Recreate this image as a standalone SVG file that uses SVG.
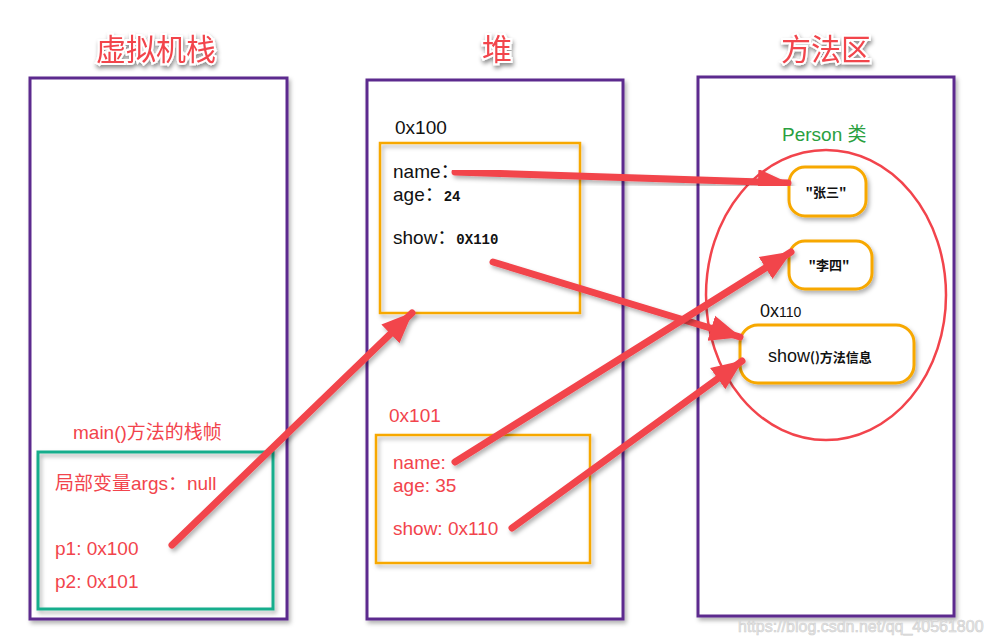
<svg xmlns="http://www.w3.org/2000/svg" width="992" height="643" viewBox="0 0 992 643">
<defs>
<filter id="sh" x="-10%" y="-10%" width="130%" height="130%"><feDropShadow dx="2" dy="3" stdDeviation="2" flood-color="#000" flood-opacity="0.3"/></filter>
<filter id="tsh" x="-20%" y="-20%" width="140%" height="150%"><feDropShadow dx="1" dy="3" stdDeviation="2" flood-color="#000" flood-opacity="0.45"/></filter>
<marker id="ah" markerUnits="userSpaceOnUse" markerWidth="34" markerHeight="30" refX="30" refY="15" orient="auto"><path d="M0,2 L31,15 L0,28 Z" fill="#f2444c"/></marker>
<style>
.area{fill:#fff;stroke:#5c2a8e;stroke-width:3;filter:url(#sh)}
.obj{fill:none;stroke:#f7a800;stroke-width:2.5;filter:url(#sh)}
.rr{fill:#fff;stroke:#f7a800;stroke-width:3;filter:url(#sh)}
.title{font-family:"Noto Sans CJK SC","Liberation Sans",sans-serif;font-size:30px;fill:#f2444c;stroke:#fff;stroke-width:4;paint-order:stroke;filter:url(#tsh);text-anchor:middle}
.t{font-family:"Liberation Sans","Noto Sans CJK SC",sans-serif;font-size:19px}
.blk{fill:#111}
.red{fill:#f2444c}
.sm{font-family:"Liberation Mono","DejaVu Sans Mono",monospace;font-size:14px;font-weight:bold;fill:#111}
.cn{font-family:"Noto Sans CJK SC",sans-serif;font-size:13px;font-weight:bold;fill:#111}
.con{stroke:#f2444c;stroke-width:7;stroke-linecap:round;fill:none;marker-end:url(#ah);filter:url(#sh)}
</style>
</defs>
<text class="title" x="156" y="60">虚拟机栈</text>
<text class="title" x="497" y="60">堆</text>
<text class="title" x="826" y="60">方法区</text>
<g id="stack">
<rect class="area" x="30" y="78" width="257" height="541"/>
<text class="t red" x="73" y="439" font-size="18">main()方法的栈帧</text>
<rect x="38" y="452" width="235" height="157" fill="none" stroke="#16ad8c" stroke-width="3" filter="url(#sh)"/>
<text class="t red" x="55" y="490" font-size="18.5">局部变量args：null</text>
<text class="t red" x="55" y="555">p1: 0x100</text>
<text class="t red" x="55" y="588">p2: 0x101</text>
</g>
<g id="heap">
<rect class="area" x="367" y="80" width="256" height="539"/>
</g>
<g id="obj1">
<text class="t blk" x="395" y="134">0x100</text>
<rect class="obj" x="380" y="143" width="200" height="170"/>
<text class="t blk" x="393" y="178">name：</text>
<text class="t blk" x="393" y="201">age：<tspan class="sm">24</tspan></text>
<text class="t blk" x="393" y="244">show：<tspan class="sm">0X110</tspan></text>
</g>
<g id="obj2">
<text class="t red" x="389" y="422">0x101</text>
<rect class="obj" x="376" y="435" width="214" height="128"/>
<text class="t red" x="393" y="469">name:</text>
<text class="t red" x="393" y="492">age: 35</text>
<text class="t red" x="393" y="535">show: 0x110</text>
</g>
<g id="method">
<rect class="area" x="698" y="77" width="256" height="539"/>
<text x="782" y="141" font-family="'Liberation Sans','Noto Sans CJK SC',sans-serif" font-size="19" fill="#2aa040">Person 类</text>
<ellipse cx="826" cy="295" rx="120" ry="145" fill="none" stroke="#f2444c" stroke-width="2.5"/>
</g>
<g id="zhangsan">
<rect class="rr" x="789" y="167" width="77" height="49" rx="16"/>
<text class="cn" x="826" y="197" text-anchor="middle">"张三"</text>
</g>
<g id="lisi">
<rect class="rr" x="789" y="241" width="83" height="48" rx="16"/>
<text class="cn" x="829" y="270" text-anchor="middle">"李四"</text>
</g>
<g id="showinfo">
<text x="760" y="317" font-family="'Liberation Sans',sans-serif" font-size="18" fill="#111">0x<tspan font-size="14">110</tspan></text>
<rect class="rr" x="740" y="325" width="174" height="58" rx="18"/>
<text x="768" y="362" font-family="'Liberation Sans',sans-serif" font-size="18" fill="#111">show<tspan class="cn" font-size="15">()方法信息</tspan></text>
</g>
<g id="connectors">
<line class="con" x1="455" y1="172" x2="788" y2="183"/>
<line class="con" x1="493" y1="262" x2="740" y2="337"/>
<line class="con" x1="172" y1="545" x2="412" y2="313"/>
<line class="con" x1="455" y1="462" x2="791" y2="252"/>
<line class="con" x1="512" y1="528" x2="742" y2="361"/>
</g>
<text x="738" y="632" font-family="'Liberation Sans',sans-serif" font-size="16" fill="#e8e8e8" stroke="#cfcfcf" stroke-width="0.6">https://blog.csdn.net/qq_40561800</text>
</svg>
